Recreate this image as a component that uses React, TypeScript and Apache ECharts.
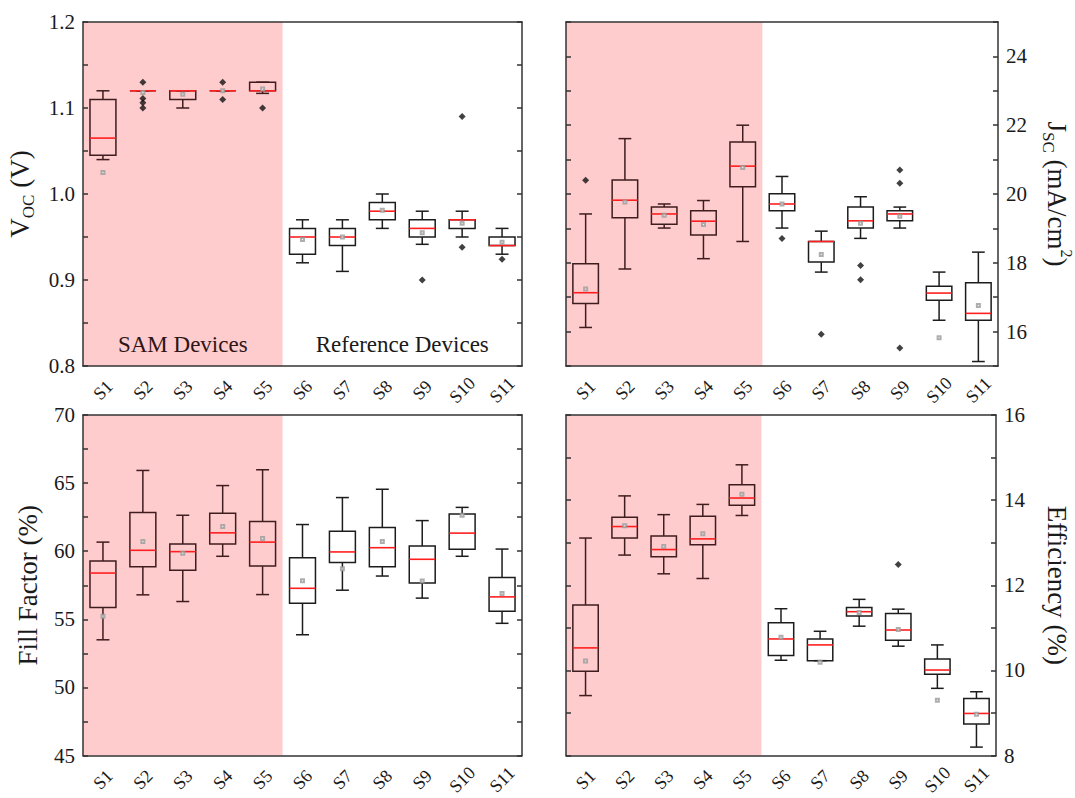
import React, { useEffect, useRef } from "react";
import * as echarts from "echarts";

const categories = ["S1", "S2", "S3", "S4", "S5", "S6", "S7", "S8", "S9", "S10", "S11"];

// [low whisker, Q1, median, Q3, high whisker]
const vocBoxes = [
  [1.04, 1.045, 1.065, 1.11, 1.12],
  [1.12, 1.12, 1.12, 1.12, 1.12],
  [1.10, 1.11, 1.12, 1.12, 1.12],
  [1.12, 1.12, 1.12, 1.12, 1.12],
  [1.117, 1.12, 1.12, 1.13, 1.13],
  [0.92, 0.93, 0.95, 0.96, 0.97],
  [0.91, 0.94, 0.95, 0.96, 0.97],
  [0.96, 0.97, 0.98, 0.99, 1.0],
  [0.9415, 0.95, 0.96, 0.97, 0.98],
  [0.95, 0.96, 0.97, 0.97, 0.98],
  [0.93, 0.94, 0.94, 0.95, 0.96],
];
const vocMeans = [1.025, 1.118, 1.116, 1.12, 1.122, 0.947, 0.95, 0.981, 0.955, 0.966, 0.944];
const vocOutliers = [
  [1, 1.13], [1, 1.111], [1, 1.106], [1, 1.10],
  [3, 1.13], [3, 1.11],
  [4, 1.10],
  [8, 0.90],
  [9, 1.09], [9, 0.938],
  [10, 0.924],
];

const jscBoxes = [
  [16.12, 16.82, 17.13, 17.97, 19.42],
  [17.82, 19.31, 19.82, 20.41, 21.61],
  [19.01, 19.12, 19.42, 19.62, 19.71],
  [18.12, 18.81, 19.21, 19.51, 19.81],
  [18.62, 20.21, 20.81, 21.51, 22.0],
  [19.01, 19.51, 19.71, 20.01, 20.51],
  [17.73, 18.02, 18.62, 18.62, 18.92],
  [18.71, 19.01, 19.22, 19.62, 19.92],
  [19.01, 19.22, 19.42, 19.51, 19.62],
  [16.33, 16.91, 17.12, 17.32, 17.73],
  [15.13, 16.33, 16.53, 17.42, 18.31],
];
const jscMeans = [17.24, 19.77, 19.38, 19.11, 20.77, 19.71, 18.24, 19.15, 19.35, 15.82, 16.76];
const jscOutliers = [
  [0, 20.40],
  [5, 18.71],
  [6, 15.92],
  [7, 17.92], [7, 17.51],
  [8, 20.70], [8, 20.31], [8, 15.52],
];

const ffBoxes = [
  [53.5, 55.88, 58.4, 59.29, 60.67],
  [56.8, 58.86, 60.07, 62.85, 65.93],
  [56.31, 58.61, 59.97, 60.53, 62.64],
  [59.63, 60.53, 61.35, 62.78, 64.82],
  [56.82, 58.91, 60.67, 62.18, 65.98],
  [53.87, 56.19, 57.28, 59.53, 61.96],
  [57.14, 59.17, 59.95, 61.47, 63.94],
  [58.18, 58.86, 60.26, 61.74, 64.55],
  [56.56, 57.67, 59.41, 60.38, 62.25],
  [59.63, 60.14, 61.33, 62.73, 63.22],
  [54.71, 55.59, 56.65, 58.08, 60.16],
];
const ffMeans = [55.22, 60.72, 59.85, 61.81, 60.94, 57.84, 58.71, 60.72, 57.81, 62.64, 56.89];
const ffOutliers: number[][] = [];

const pceBoxes = [
  [9.41, 9.98, 10.53, 11.54, 13.11],
  [12.71, 13.11, 13.38, 13.6, 14.1],
  [12.27, 12.67, 12.84, 13.16, 13.66],
  [12.16, 12.95, 13.09, 13.62, 13.9],
  [13.64, 13.88, 14.05, 14.36, 14.83],
  [10.24, 10.35, 10.74, 11.12, 11.45],
  [10.23, 10.23, 10.6, 10.74, 10.92],
  [11.04, 11.28, 11.38, 11.48, 11.67],
  [10.57, 10.71, 10.95, 11.34, 11.44],
  [9.58, 9.91, 10.01, 10.27, 10.6],
  [8.2, 8.74, 8.99, 9.34, 9.5],
];
const pceMeans = [10.22, 13.4, 12.91, 13.21, 14.14, 10.78, 10.19, 11.36, 10.96, 9.3, 8.97];
const pceOutliers = [[8, 12.49]];

const regionNames = ["SAM Devices", "Reference Devices"];
const regionSpans = [[0, 4], [5, 10]];

const FONT = "Liberation Serif";
const PINK = "#ffccce";
const SAM_LINE = "#3f1c1e";
const REF_LINE = "#1c1c1c";
const AXIS_COLOR = "#333333";
const TEXT_COLOR = "#1a1a1a";

type Panel = {
  grid: { left: number; top: number; width: number; height: number };
  min: number; max: number; interval: number;
  fmt: (v: number) => string;
  side: "left" | "right";
  name: string; nameGap: number; nameSize: number;
  boxes: number[][]; means: number[]; outliers: number[][];
  showRegionLabels: boolean;
};

const richName = {
  sub: { fontSize: 17, fontFamily: FONT, color: TEXT_COLOR, verticalAlign: "bottom" },
  sup: { fontSize: 16, fontFamily: FONT, color: TEXT_COLOR, verticalAlign: "top" },
};

const panels: Panel[] = [
  {
    grid: { left: 83, top: 22, width: 439, height: 344 },
    min: 0.8, max: 1.2, interval: 0.05,
    fmt: (v) => { const k = Math.round(v * 100); return k % 10 === 0 ? (k / 100).toFixed(1) : ""; },
    side: "left", name: "V{sub|OC} (V)", nameGap: 46, nameSize: 27,
    boxes: vocBoxes, means: vocMeans, outliers: vocOutliers, showRegionLabels: true,
  },
  {
    grid: { left: 566, top: 22, width: 440, height: 344 },
    min: 15, max: 25, interval: 1,
    fmt: (v) => (Math.round(v) % 2 === 0 ? String(Math.round(v)) : ""),
    side: "right", name: "J{sub|SC} (mA/cm{sup|2})", nameGap: 42, nameSize: 27,
    boxes: jscBoxes, means: jscMeans, outliers: jscOutliers, showRegionLabels: false,
  },
  {
    grid: { left: 83, top: 415, width: 439, height: 344 },
    min: 45, max: 70, interval: 2.5,
    fmt: (v) => (Math.abs(v % 5) < 1e-6 ? String(Math.round(v)) : ""),
    side: "left", name: "Fill Factor (%)", nameGap: 38, nameSize: 27,
    boxes: ffBoxes, means: ffMeans, outliers: ffOutliers, showRegionLabels: false,
  },
  {
    grid: { left: 566, top: 415, width: 440, height: 344 },
    min: 8, max: 16, interval: 1,
    fmt: (v) => (Math.round(v) % 2 === 0 ? String(Math.round(v)) : ""),
    side: "right", name: "Efficiency (%)", nameGap: 44, nameSize: 27,
    boxes: pceBoxes, means: pceMeans, outliers: pceOutliers, showRegionLabels: false,
  },
];

function buildOption() {
  const grid: any[] = [];
  const xAxis: any[] = [];
  const yAxis: any[] = [];
  const series: any[] = [];

  panels.forEach((p, i) => {
    grid.push({ ...p.grid, containLabel: false });
    const axisLine = { show: true, lineStyle: { color: AXIS_COLOR, width: 1.5 } };
    xAxis.push({
      type: "category", gridIndex: i, data: categories, position: "bottom", z: 10,
      axisLine, axisTick: { show: false },
      axisLabel: {
        rotate: 45, align: "center", verticalAlign: "middle", margin: 24, interval: 0,
        fontSize: 18, fontFamily: FONT, color: TEXT_COLOR,
      },
      splitLine: { show: false },
    });
    xAxis.push({
      type: "category", gridIndex: i, data: categories, position: "top", z: 10,
      axisLine, axisTick: { show: false }, axisLabel: { show: false }, splitLine: { show: false },
    });
    const common = {
      type: "value", gridIndex: i, min: p.min, max: p.max, interval: p.interval, z: 10,
      axisLine, splitLine: { show: false },
      axisTick: { show: true, inside: true, length: 5, lineStyle: { color: AXIS_COLOR, width: 1.5 } },
    };
    const mirrorSide = p.side === "left" ? "right" : "left";
    yAxis.push({
      ...common, position: p.side,
      axisLabel: {
        show: true, formatter: p.fmt, fontSize: 21, fontFamily: FONT, color: TEXT_COLOR, margin: 8,
        showMinLabel: true, showMaxLabel: true,
      },
      name: p.name, nameLocation: "middle", nameGap: p.nameGap,
      nameRotate: p.side === "left" ? 90 : -90,
      nameTextStyle: {
        fontSize: p.nameSize, fontFamily: FONT, color: TEXT_COLOR, lineHeight: 34,
        rich: richName,
      },
    });
    yAxis.push({ ...common, position: mirrorSide, axisLabel: { show: false } });

    const xi = i * 2;
    const yi = i * 2;

    // shaded regions (SAM vs reference)
    series.push({
      type: "custom", xAxisIndex: xi, yAxisIndex: yi, z: 1, silent: true,
      data: regionSpans.map((s) => [s[0], s[1]]),
      renderItem: (params: any, api: any) => {
        const from = api.value(0);
        const to = api.value(1);
        const bw = api.size([1, 0])[0];
        const cs = params.coordSys;
        const x1 = api.coord([from, p.min])[0] - bw / 2;
        const x2 = api.coord([to, p.min])[0] + bw / 2;
        const children: any[] = [];
        if (params.dataIndex === 0) {
          children.push({
            type: "rect",
            shape: { x: x1, y: cs.y, width: x2 - x1, height: cs.height },
            style: { fill: PINK, stroke: "none" },
          });
        }
        if (p.showRegionLabels) {
          children.push({
            type: "text",
            x: (x1 + x2) / 2, y: cs.y + cs.height - 10,
            style: {
              text: regionNames[params.dataIndex], fontSize: 23, fontFamily: FONT,
              fill: params.dataIndex === 0 ? "#2e1516" : TEXT_COLOR,
              align: "center", verticalAlign: "bottom",
            },
          });
        }
        return { type: "group", children };
      },
    });

    // box plots
    series.push({
      type: "custom", xAxisIndex: xi, yAxisIndex: yi, z: 3, silent: true,
      encode: { x: 0, y: [1, 2, 3, 4, 5] },
      data: p.boxes.map((b, k) => [k, ...b]),
      renderItem: (params: any, api: any) => {
        const idx = api.value(0);
        const vals = [1, 2, 3, 4, 5].map((d) => api.coord([idx, api.value(d)])[1]);
        const [yl, yq1, ym, yq3, yh] = vals;
        const x = api.coord([idx, p.min])[0];
        const bw = api.size([1, 0])[0] * 0.65;
        const c = idx < 5 ? SAM_LINE : REF_LINE;
        const ls = { stroke: c, lineWidth: 1.5, fill: "none" };
        return {
          type: "group",
          children: [
            { type: "line", shape: { x1: x, y1: yh, x2: x, y2: yq3 }, style: ls },
            { type: "line", shape: { x1: x, y1: yq1, x2: x, y2: yl }, style: ls },
            { type: "line", shape: { x1: x - bw / 4, y1: yh, x2: x + bw / 4, y2: yh }, style: ls },
            { type: "line", shape: { x1: x - bw / 4, y1: yl, x2: x + bw / 4, y2: yl }, style: ls },
            { type: "rect", shape: { x: x - bw / 2, y: yq3, width: bw, height: yq1 - yq3 }, style: ls },
            { type: "line", shape: { x1: x - bw / 2, y1: ym, x2: x + bw / 2, y2: ym }, style: { stroke: "#ff1f1f", lineWidth: 1.6 } },
          ],
        };
      },
    });

    // means
    series.push({
      type: "scatter", xAxisIndex: xi, yAxisIndex: yi, z: 4, silent: true,
      symbol: "emptyRect", symbolSize: 3,
      itemStyle: { color: "#9a9a9a", borderColor: "#9a9a9a", borderWidth: 0.8 },
      data: p.means.map((m, k) => [k, m]),
    });

    // outliers
    series.push({
      type: "scatter", xAxisIndex: xi, yAxisIndex: yi, z: 4, silent: true,
      symbol: "diamond", symbolSize: 7,
      itemStyle: { color: "#111111" },
      data: p.outliers.map((o) => [o[0], o[1]]),
    });
  });

  return {
    animation: false, backgroundColor: "#ffffff",
    textStyle: { fontFamily: FONT },
    grid, xAxis, yAxis, series,
  };
}

export default function App() {
  const ref = useRef<HTMLDivElement>(null);
  useEffect(() => {
    if (!ref.current) return;
    const chart = echarts.init(ref.current, undefined, { renderer: "svg" });
    chart.setOption(buildOption() as any);
    return () => chart.dispose();
  }, []);
  return (
    <div
      ref={ref}
      style={{ position: "absolute", left: 0, top: 0, width: 1075, height: 798, background: "#fff" }}
    />
  );
}
